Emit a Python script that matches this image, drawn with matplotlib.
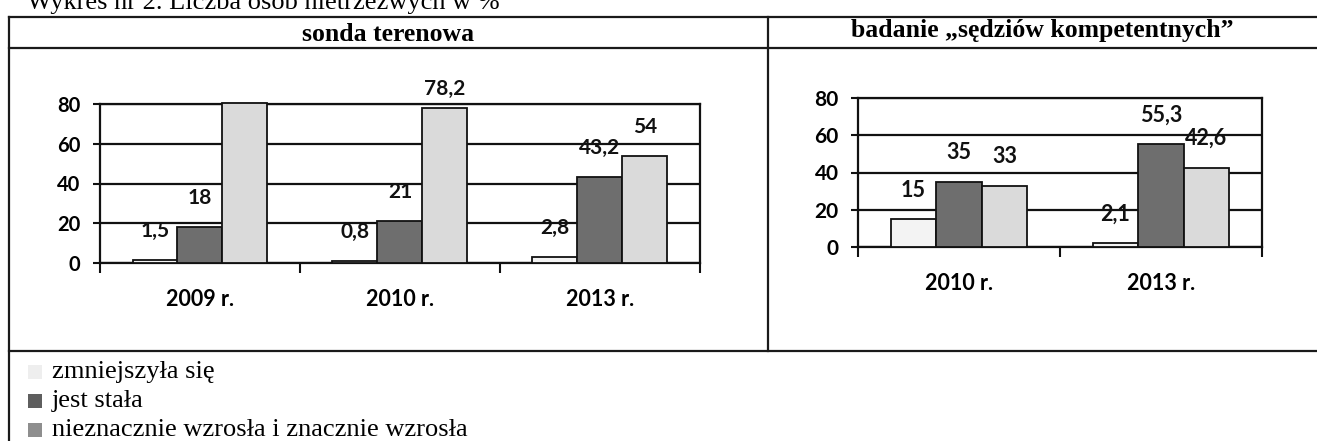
import matplotlib
matplotlib.use("Agg")
import matplotlib.pyplot as plt
from matplotlib.lines import Line2D
from matplotlib.patches import Rectangle
import numpy as np

# ---------------- data ----------------
left_categories = ["2009 r.", "2010 r.", "2013 r."]
left_decreased = [1.5, 0.8, 2.8]
left_constant = [18, 21, 43.2]
left_increased = [80.5, 78.2, 54]
left_increased_shown = [False, True, True]

right_categories = ["2010 r.", "2013 r."]
right_decreased = [15, 2.1]
right_constant = [35, 55.3]
right_increased = [33, 42.6]

series_names = ["zmniejszyła się", "jest stała", "nieznacznie wzrosła i znacznie wzrosła"]
yticks = [0, 20, 40, 60, 80]

title_text = "Wykres nr 2. Liczba osób nietrzeźwych w %"
left_header = "sonda terenowa"
right_header = "badanie \u201esędziów kompetentnych\u201d"

# ---------------- style ----------------
W, H = 1317, 441
col_dec = "#f3f3f3"
col_const = "#6e6e6e"
col_inc = "#dadada"
legend_cols = ["#eeeeee", "#5e5e5e", "#8e8e8e"]
LABEL_FONT = "Lato"
SERIF = "Liberation Serif"

fig = plt.figure(figsize=(W / 100, H / 100), dpi=100)
fig.patch.set_facecolor("white")


def fx(x):
    return x / W


def fy(y):
    return 1 - y / H


def fmt(v):
    return f"{v:g}".replace(".", ",")


def hline(y, x0, x1, lw=1.6):
    fig.add_artist(Line2D([fx(x0), fx(x1)], [fy(y), fy(y)], color="#1a1a1a", lw=lw,
                          transform=fig.transFigure))


def vline(x, y0, y1, lw=1.6):
    fig.add_artist(Line2D([fx(x), fx(x)], [fy(y0), fy(y1)], color="#1a1a1a", lw=lw,
                          transform=fig.transFigure))


# table frame
hline(17, 9, W)
hline(48, 9, W)
hline(351, 9, W)
vline(9, 17, H)
vline(768, 17, 351)

fig.text(fx(27), fy(9), title_text, fontfamily=SERIF, fontsize=19, va="baseline", ha="left")
fig.text(fx(388), fy(41), left_header, fontfamily=SERIF, fontweight="bold", fontsize=18.5,
         ha="center", va="baseline")
fig.text(fx(1042), fy(37), right_header, fontfamily=SERIF, fontweight="bold", fontsize=18.5,
         ha="center", va="baseline")


def make_chart(rect_px, cats, dec, const, inc, inc_shown, fs_tick, fs_cat, fs_lab):
    x0, ytop, x1, ybot = rect_px
    ax = fig.add_axes([fx(x0), fy(ybot), (x1 - x0) / W, (ybot - ytop) / H])
    n = len(cats)
    x = np.arange(n)
    bw = 0.225
    series = [(dec, col_dec, [True] * n), (const, col_const, [True] * n), (inc, col_inc, inc_shown)]
    for i, (vals, col, shown) in enumerate(series):
        xs = x + (i - 1) * bw
        ax.bar(xs, vals, width=bw, color=col, edgecolor="#111111", linewidth=1.3,
               zorder=3, clip_on=False)
        for xi, v, s in zip(xs, vals, shown):
            if not s:
                continue
            off = 19 if v > 75 else 29
            ax.annotate(fmt(v), (xi, v), xytext=(0, off * 0.72), textcoords="offset points",
                        ha="center", va="center", fontfamily=LABEL_FONT, fontweight="bold",
                        fontsize=fs_lab, color="#111111", zorder=5, annotation_clip=False)
    ax.set_xlim(-0.5, n - 0.5)
    ax.set_ylim(0, 80)
    ax.set_yticks(yticks)
    ax.set_yticklabels([str(t) for t in yticks], fontfamily=LABEL_FONT, fontweight="bold",
                       fontsize=fs_tick)
    ax.set_xticks(x)
    ax.set_xticklabels(cats, fontfamily=LABEL_FONT, fontweight="bold", fontsize=fs_cat)
    ax.set_xticks(np.arange(n + 1) - 0.5, minor=True)
    ax.tick_params(axis="x", which="major", length=0, pad=19)
    ax.tick_params(axis="x", which="minor", length=7, width=1.5, direction="out", color="#111111")
    ax.tick_params(axis="y", length=5, width=1.5, direction="out", pad=9, color="#111111")
    ax.yaxis.grid(True, color="#111111", linewidth=1.6, zorder=1)
    ax.set_axisbelow(True)
    for s in ax.spines.values():
        s.set_color("#111111")
        s.set_linewidth(1.6)
    ax.set_facecolor("none")
    return ax


make_chart((100, 104, 700, 263), left_categories, left_decreased, left_constant,
           left_increased, left_increased_shown, 14.5, 15.5, 15)
make_chart((858, 98, 1262, 247), right_categories, right_decreased, right_constant,
           right_increased, [True, True], 15, 15.5, 15.5)

# legend
rows_y = [372, 401, 430]
for name, col, yy in zip(series_names, legend_cols, rows_y):
    fig.add_artist(Rectangle((fx(28), fy(yy + 7)), 14 / W, 14 / H, facecolor=col,
                             edgecolor="none", transform=fig.transFigure))
    fig.text(fx(52), fy(yy), name, fontfamily=SERIF, fontsize=19, ha="left", va="center")

fig.savefig("out.png", dpi=100)
